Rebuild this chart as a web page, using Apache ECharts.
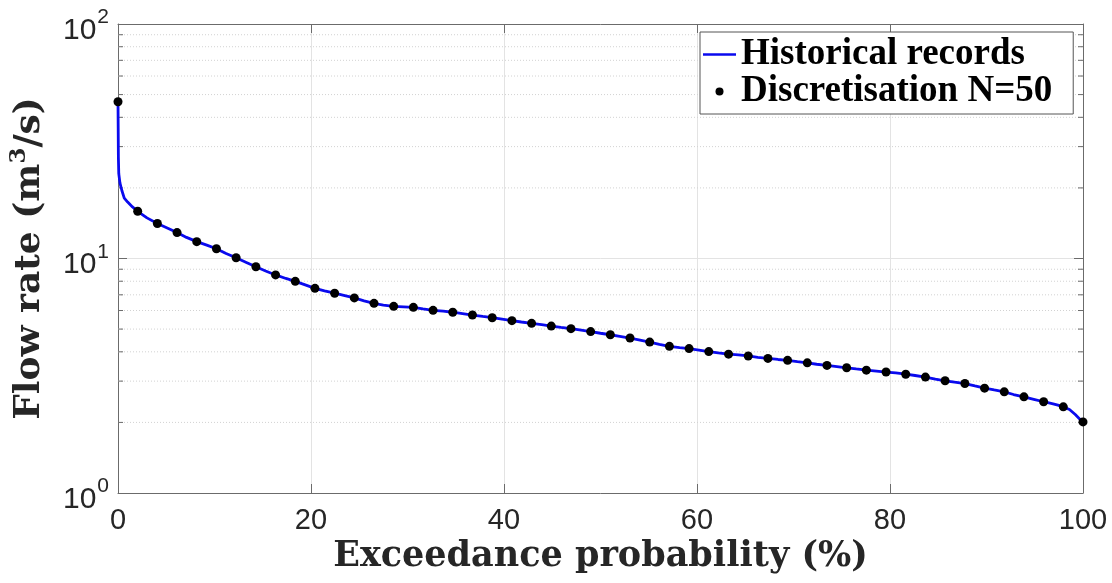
<!DOCTYPE html>
<html>
<head>
<meta charset="utf-8">
<title>Flow duration curve</title>
<script src="https://cdn.jsdelivr.net/npm/echarts@6/dist/echarts.min.js"></script>
<style>
  html, body { margin: 0; padding: 0; background: #fff; }
  #chart { width: 1112px; height: 583px; }
</style>
</head>
<body>
<div id="chart"></div>
<script>
// Historical flow duration curve (exceedance probability in %, flow in m3/s)
const histProb = [0, 0.02, 0.04, 0.08, 0.2, 0.4, 0.65, 1.0, 1.5, 2.04, 3.0, 4.08, 5.1, 6.12, 7.1, 8.16, 9.2, 10.20,
  11.2, 12.24, 13.3, 14.29, 15.3, 16.33, 17.4, 18.37, 19.4, 20.41, 21.4, 22.45, 23.5, 24.49, 25.5, 26.53, 27.5,
  28.57, 29.6, 30.61, 31.6, 32.65, 33.7, 34.69, 35.7, 36.73, 37.8, 38.78, 39.8, 40.82, 41.8, 42.86, 43.9, 44.90,
  45.9, 46.94, 48.0, 48.98, 50.0, 51.02, 52.0, 53.06, 54.1, 55.10, 56.1, 57.14, 58.2, 59.18, 60.2, 61.22, 62.2,
  63.27, 64.3, 65.31, 66.3, 67.35, 68.4, 69.39, 70.4, 71.43, 72.4, 73.47, 74.5, 75.51, 76.5, 77.55, 78.6, 79.59,
  80.6, 81.63, 82.6, 83.67, 84.7, 85.71, 86.7, 87.76, 88.8, 89.80, 90.8, 91.84, 92.8, 93.88, 94.9, 95.92, 96.9,
  97.4, 97.96, 98.6, 99.2, 99.6, 100];
const histFlow = [46.6, 36, 27, 23, 21, 19.5, 18.1, 17.4, 16.6, 15.9, 14.9, 14.1, 13.5, 12.9, 12.3, 11.8, 11.4, 11.0,
  10.5, 10.07, 9.62, 9.22, 8.85, 8.51, 8.22, 7.99, 7.72, 7.46, 7.28, 7.11, 6.95, 6.79, 6.6, 6.44, 6.33,
  6.25, 6.22, 6.19, 6.1, 6.01, 5.96, 5.90, 5.82, 5.74, 5.66, 5.59, 5.51, 5.43, 5.36, 5.29, 5.22, 5.15,
  5.08, 5.02, 4.95, 4.88, 4.80, 4.73, 4.66, 4.58, 4.49, 4.40, 4.30, 4.22, 4.17, 4.13, 4.07, 4.01, 3.96,
  3.91, 3.88, 3.84, 3.79, 3.75, 3.71, 3.68, 3.63, 3.59, 3.54, 3.50, 3.46, 3.42, 3.38, 3.34, 3.31, 3.28,
  3.25, 3.21, 3.17, 3.12, 3.06, 3.01, 2.97, 2.93, 2.86, 2.80, 2.75, 2.70, 2.63, 2.57, 2.51, 2.45, 2.40,
  2.37, 2.33, 2.27, 2.16, 2.08, 2.0];

// N = 50 discretisation points
const discProb = [0, 2.04, 4.08, 6.12, 8.16, 10.20, 12.24, 14.29, 16.33, 18.37, 20.41, 22.45, 24.49, 26.53,
  28.57, 30.61, 32.65, 34.69, 36.73, 38.78, 40.82, 42.86, 44.90, 46.94, 48.98, 51.02, 53.06, 55.10, 57.14,
  59.18, 61.22, 63.27, 65.31, 67.35, 69.39, 71.43, 73.47, 75.51, 77.55, 79.59, 81.63, 83.67, 85.71, 87.76,
  89.80, 91.84, 93.88, 95.92, 97.96, 100];
const discFlow = [46.6, 15.9, 14.1, 12.9, 11.8, 11.0, 10.07, 9.22, 8.51, 7.99, 7.46, 7.11, 6.79, 6.44,
  6.25, 6.19, 6.01, 5.90, 5.74, 5.59, 5.43, 5.29, 5.15, 5.02, 4.88, 4.73, 4.58, 4.40, 4.22,
  4.13, 4.01, 3.91, 3.84, 3.75, 3.68, 3.59, 3.50, 3.42, 3.34, 3.28, 3.21, 3.12, 3.01, 2.93,
  2.80, 2.70, 2.57, 2.45, 2.33, 2.01];

// Minor (log) tick values between decades
const minorTicks = [2, 3, 4, 5, 6, 7, 8, 9, 20, 30, 40, 50, 60, 70, 80, 90];

const seriesNames = ['Historical records', 'Discretisation N=50'];

const AXIS_COLOR = '#6b6b6b';
const LABEL_COLOR = '#262626';
const LINE_BLUE = '#0a0aee';
const serif = 'DejaVu Serif';

const chart = echarts.init(document.getElementById('chart'), null, { renderer: 'canvas' });

const tickInside = { show: true, inside: true, length: 9, lineStyle: { color: AXIS_COLOR, width: 1 } };

const option = {
  backgroundColor: '#fff',
  animation: false,
  grid: { left: 117, right: 29, top: 24, bottom: 90 },
  legend: {
    left: 700,
    top: 32,
    orient: 'vertical',
    itemWidth: 33,
    itemHeight: 8,
    itemGap: 0,
    symbolKeepAspect: true,
    padding: [4, 21, 4, 3],
    backgroundColor: '#fff',
    borderColor: '#555',
    borderWidth: 1,
    borderRadius: 0,
    textStyle: { fontFamily: 'Liberation Serif', fontWeight: 'bold', fontSize: 37, lineHeight: 37, color: '#000' },
    data: [
      // a flat bar keeps the line sample free of a marker
      { name: seriesNames[0], icon: 'path://M0,0H33V2.5H0Z' },
      { name: seriesNames[1], icon: 'circle' }
    ]
  },
  xAxis: [
    {
      type: 'value', position: 'bottom', min: 0, max: 100, interval: 20,
      axisLine: { show: true, onZero: false, lineStyle: { color: AXIS_COLOR, width: 1 } },
      axisTick: tickInside,
      axisLabel: { margin: 13, fontFamily: 'Liberation Sans', fontSize: 29, color: LABEL_COLOR },
      splitLine: { show: true, lineStyle: { color: '#e3e3e3', width: 1 } },
      name: 'Exceedance probability (%)',
      nameLocation: 'middle',
      nameGap: 35,
      nameTextStyle: { fontFamily: serif, fontWeight: 'bold', fontSize: 35, color: LABEL_COLOR }
    },
    {
      type: 'value', position: 'top', min: 0, max: 100, interval: 20,
      axisLine: { show: true, onZero: false, lineStyle: { color: AXIS_COLOR, width: 1 } },
      axisTick: tickInside,
      axisLabel: { show: false },
      splitLine: { show: false }
    }
  ],
  yAxis: [
    {
      type: 'log', logBase: 10, min: 1, max: 100, position: 'left',
      axisLine: { show: true, onZero: false, lineStyle: { color: AXIS_COLOR, width: 1 } },
      axisTick: tickInside,
      axisLabel: {
        margin: 9,
        formatter: function (v) {
          return '{b|10}{s|' + Math.round(Math.log10(v)) + '}';
        },
        rich: {
          b: { fontFamily: 'Liberation Sans', fontSize: 30, color: LABEL_COLOR, padding: [13, 0, 0, 0] },
          s: { fontFamily: 'Liberation Sans', fontSize: 21, color: LABEL_COLOR, padding: [0, 0, 13, 1] }
        }
      },
      splitLine: { show: true, lineStyle: { color: '#e3e3e3', width: 1 } },
      name: 'Flow rate (m{s|3}/s)',
      nameLocation: 'middle',
      nameGap: 66,
      nameRotate: 90,
      nameTextStyle: {
        fontFamily: serif, fontWeight: 'bold', fontSize: 36, color: LABEL_COLOR,
        rich: { s: { fontFamily: serif, fontWeight: 'bold', fontSize: 23, color: LABEL_COLOR, padding: [0, 0, 21, 0] } }
      }
    },
    {
      type: 'log', logBase: 10, min: 1, max: 100, position: 'right',
      axisLine: { show: true, onZero: false, lineStyle: { color: AXIS_COLOR, width: 1 } },
      axisTick: tickInside,
      axisLabel: { show: false },
      splitLine: { show: false }
    }
  ],
  series: [
    {
      // dotted minor gridlines with short inward ticks on both vertical edges
      type: 'custom',
      silent: true,
      z: 1,
      xAxisIndex: 0,
      yAxisIndex: 0,
      data: minorTicks.map(function (v) { return [0, v]; }),
      renderItem: function (params, api) {
        const v = api.value(1);
        const p0 = api.coord([0, v]);
        const p1 = api.coord([100, v]);
        return {
          type: 'group',
          children: [
            { type: 'line', shape: { x1: p0[0], y1: p0[1], x2: p1[0], y2: p1[1] },
              style: { stroke: '#d2d2d2', lineWidth: 1, lineDash: [1, 2] } },
            { type: 'line', shape: { x1: p0[0], y1: p0[1], x2: p0[0] + 5, y2: p0[1] },
              style: { stroke: AXIS_COLOR, lineWidth: 1 } },
            { type: 'line', shape: { x1: p1[0] - 5, y1: p1[1], x2: p1[0], y2: p1[1] },
              style: { stroke: AXIS_COLOR, lineWidth: 1 } }
          ]
        };
      }
    },
    {
      name: seriesNames[0],
      type: 'line',
      z: 3,
      symbol: 'none',
      showSymbol: false,
      smooth: false,
      lineStyle: { color: LINE_BLUE, width: 2.8 },
      itemStyle: { color: LINE_BLUE },
      data: histProb.map(function (p, i) { return [p, histFlow[i]]; })
    },
    {
      name: seriesNames[1],
      type: 'scatter',
      z: 4,
      symbol: 'circle',
      symbolSize: 9,
      itemStyle: { color: '#000', opacity: 1 },
      data: discProb.map(function (p, i) { return [p, discFlow[i]]; })
    }
  ]
};

chart.setOption(option);
</script>
</body>
</html>
